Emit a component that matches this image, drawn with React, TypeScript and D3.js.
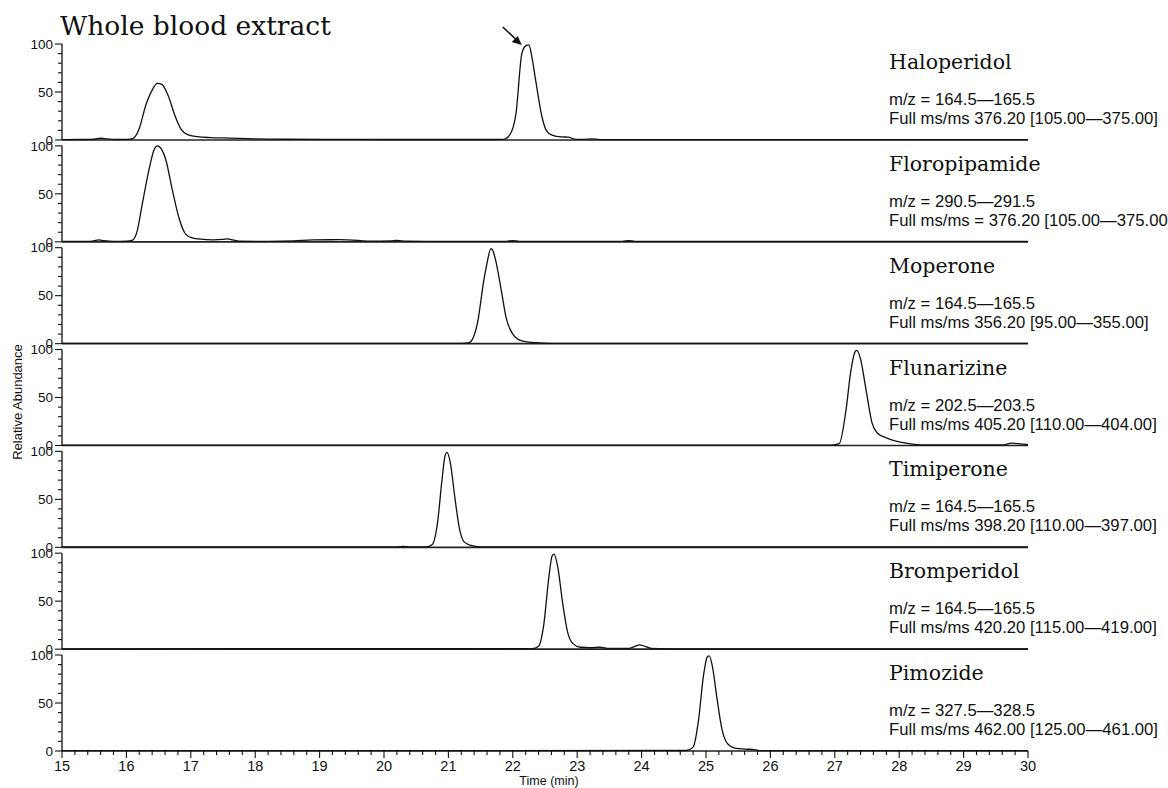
import * as d3 from 'd3'

const W = 1168
const H = 788

const TITLE = 'Whole blood extract'
const X_LABEL = 'Time (min)'
const Y_LABEL = 'Relative Abundance'

const COMPOUNDS = [
  'Haloperidol',
  'Floropipamide',
  'Moperone',
  'Flunarizine',
  'Timiperone',
  'Bromperidol',
  'Pimozide',
]

const MZ_WINDOWS = [
  'm/z = 164.5—165.5',
  'm/z = 290.5—291.5',
  'm/z = 164.5—165.5',
  'm/z = 202.5—203.5',
  'm/z = 164.5—165.5',
  'm/z = 164.5—165.5',
  'm/z = 327.5—328.5',
]

const SCAN_EVENTS = [
  'Full ms/ms 376.20 [105.00—375.00]',
  'Full ms/ms = 376.20 [105.00—375.00]',
  'Full ms/ms 356.20 [95.00—355.00]',
  'Full ms/ms 405.20 [110.00—404.00]',
  'Full ms/ms 398.20 [110.00—397.00]',
  'Full ms/ms 420.20 [115.00—419.00]',
  'Full ms/ms 462.00 [125.00—461.00]',
]

const X_TICKS = [15, 16, 17, 18, 19, 20, 21, 22, 23, 24, 25, 26, 27, 28, 29, 30]
const Y_TICKS = [0, 50, 100]

// [time (min), relative abundance (%)]
const HALOPERIDOL: [number, number][] = [
  [15.0, 0.4], [15.3, 0.5], [15.5, 0.8], [15.6, 1.8], [15.7, 1.2], [15.85, 0.5],
  [16.0, 0.6], [16.1, 1.5], [16.2, 12], [16.3, 36], [16.4, 52], [16.48, 59],
  [16.55, 58], [16.65, 46], [16.75, 26], [16.85, 11], [16.95, 5.5], [17.1, 3.5],
  [17.3, 2.5], [17.6, 2], [18.0, 1.2], [18.5, 0.8], [19.5, 0.6], [20.5, 0.5],
  [21.5, 0.5], [21.85, 0.6], [21.95, 5], [22.05, 28], [22.14, 90], [22.2, 98],
  [22.25, 99], [22.3, 85], [22.36, 60], [22.45, 25], [22.52, 10], [22.61, 5],
  [22.75, 3.2], [22.86, 3], [22.98, 0.6], [23.1, 0.6], [23.23, 1.2], [23.35, 0.4],
  [24.0, 0.4], [25.0, 0.4], [26.0, 0.3], [27.0, 0.4], [28.0, 0.3], [30.0, 0.3],
]

const FLOROPIPAMIDE: [number, number][] = [
  [15.0, 0.4], [15.4, 0.5], [15.5, 1.2], [15.57, 2], [15.65, 1.2], [15.8, 0.4],
  [16.0, 0.6], [16.09, 1.5], [16.17, 12], [16.24, 37], [16.35, 75], [16.43, 96],
  [16.48, 100], [16.54, 97], [16.61, 86], [16.71, 55], [16.82, 24], [16.92, 8],
  [17.02, 4], [17.12, 3], [17.35, 2], [17.5, 2.5], [17.57, 3], [17.65, 2],
  [17.75, 0.6], [18.2, 0.5], [18.6, 1], [18.9, 2], [19.3, 2.2], [19.6, 1.5],
  [19.8, 0.6], [20.1, 1], [20.2, 1.6], [20.35, 0.6], [21.0, 0.5], [21.9, 0.5],
  [22.0, 1.2], [22.1, 0.5], [23.7, 0.5], [23.8, 1.2], [23.9, 0.5], [30.0, 0.4],
]

const MOPERONE: [number, number][] = [
  [15.0, 0.4], [21.2, 0.4], [21.32, 1], [21.45, 21], [21.55, 66], [21.6, 84],
  [21.66, 99], [21.69, 97], [21.74, 85], [21.82, 56], [21.9, 26], [22.0, 10],
  [22.14, 3], [22.36, 1], [22.6, 0.4], [30.0, 0.4],
]

const FLUNARIZINE: [number, number][] = [
  [15.0, 0.4], [26.95, 0.4], [27.07, 2], [27.17, 35], [27.25, 78], [27.31, 97],
  [27.34, 99], [27.4, 90], [27.48, 60], [27.58, 23], [27.66, 13], [27.8, 8],
  [27.98, 4], [28.2, 1.5], [28.45, 0.6], [29.6, 0.6], [29.75, 2.5], [29.9, 1.5],
  [30.0, 0.8],
]

const TIMIPERONE: [number, number][] = [
  [15.0, 0.4], [20.2, 0.5], [20.3, 1], [20.4, 0.5], [20.65, 0.5], [20.75, 3],
  [20.83, 25], [20.9, 70], [20.95, 96], [20.98, 99], [21.03, 88], [21.1, 52],
  [21.17, 20], [21.24, 6], [21.35, 2], [21.5, 0.5], [30.0, 0.4],
]

const BROMPERIDOL: [number, number][] = [
  [15.0, 0.4], [22.3, 0.5], [22.4, 3], [22.48, 25], [22.56, 75], [22.61, 97],
  [22.64, 99], [22.7, 85], [22.77, 50], [22.85, 18], [22.93, 6], [23.05, 2],
  [23.2, 1.5], [23.35, 2], [23.5, 0.8], [23.8, 0.8], [23.9, 3], [23.97, 4.5],
  [24.05, 3], [24.15, 0.8], [24.4, 0.4], [30.0, 0.4],
]

const PIMOZIDE: [number, number][] = [
  [15.0, 0.4], [24.7, 0.5], [24.8, 4], [24.88, 30], [24.96, 78], [25.02, 98],
  [25.05, 99], [25.1, 88], [25.17, 55], [25.25, 22], [25.33, 8], [25.45, 3],
  [25.6, 2], [25.75, 1.5], [25.85, 0.4], [30.0, 0.4],
]

const TRACES = [HALOPERIDOL, FLOROPIPAMIDE, MOPERONE, FLUNARIZINE, TIMIPERONE, BROMPERIDOL, PIMOZIDE]

// the marked peak in the first trace
const ARROW_AT: [number, number] = [22.17, 100]

const SANS = '"Liberation Sans", Arial, Helvetica, sans-serif'
const SERIF = '"DejaVu Serif", "Century Schoolbook", serif'
const INK = '#111'

export default function App() {
  const x = d3.scaleLinear().domain([15, 30]).range([62, 1028])
  const panelTop = d3.scaleLinear().domain([0, COMPOUNDS.length - 1]).range([44, 655])
  const panelH = 96
  const minorX = x.ticks(75)

  const line = (y: d3.ScaleLinear<number, number>) =>
    d3
      .line<[number, number]>()
      .x((d) => x(d[0]))
      .y((d) => y(d[1]))
      .curve(d3.curveMonotoneX)

  const bottomY = panelTop(COMPOUNDS.length - 1) + panelH

  return (
    <svg
      width={W}
      height={H}
      viewBox={`0 0 ${W} ${H}`}
      style={{ position: 'absolute', left: 0, top: 0, background: '#fff' }}
    >
      <text x={60} y={35} fontFamily={SERIF} fontSize={26.5} fill={INK}>
        {TITLE}
      </text>

      {COMPOUNDS.map((name, i) => {
        const top = panelTop(i)
        const y = d3.scaleLinear().domain([0, 100]).range([top + panelH, top])
        const minorY = y.ticks(10)
        return (
          <g key={name}>
            {/* y axis */}
            <line x1={x(15)} x2={x(15)} y1={y(100)} y2={y(0)} stroke={INK} strokeWidth={1.3} />
            {minorY.map((t) => (
              <line
                key={t}
                x1={x(15) - (t % 50 === 0 ? 7 : 4)}
                x2={x(15)}
                y1={y(t)}
                y2={y(t)}
                stroke={INK}
                strokeWidth={1.1}
              />
            ))}
            {Y_TICKS.map((t) => (
              <text
                key={t}
                x={x(15) - 9}
                y={y(t)}
                dy="0.35em"
                textAnchor="end"
                fontFamily={SANS}
                fontSize={13.5}
                fill={INK}
              >
                {t}
              </text>
            ))}
            {/* baseline */}
            <line x1={x(15)} x2={x(30)} y1={y(0)} y2={y(0)} stroke="#222" strokeWidth={1.6} />
            <path d={line(y)(TRACES[i]) ?? ''} fill="none" stroke={INK} strokeWidth={1.3} />

            <text x={889} y={top + 25} fontFamily={SERIF} fontSize={20.5} fill={INK}>
              {name}
            </text>
            <text x={889} y={top + 61} fontFamily={SANS} fontSize={16.7} fill={INK}>
              {MZ_WINDOWS[i]}
            </text>
            <text x={889} y={top + 80} fontFamily={SANS} fontSize={16.7} fill={INK}>
              {SCAN_EVENTS[i]}
            </text>

            {i === 0 ? (
              <g>
                <line
                  x1={x(ARROW_AT[0]) - 21}
                  y1={y(ARROW_AT[1]) - 17}
                  x2={x(ARROW_AT[0]) - 6}
                  y2={y(ARROW_AT[1]) - 3}
                  stroke={INK}
                  strokeWidth={1.6}
                />
                <path
                  d={`M${x(ARROW_AT[0]) - 2},${y(ARROW_AT[1]) + 1} l-10,-3 l6,-6 z`}
                  fill={INK}
                />
              </g>
            ) : null}
          </g>
        )
      })}

      {/* time axis */}
      {minorX.map((t) => {
        const major = Math.abs(t - Math.round(t)) < 1e-6
        return (
          <line
            key={t}
            x1={x(t)}
            x2={x(t)}
            y1={bottomY}
            y2={bottomY + (major ? 7 : 4)}
            stroke={INK}
            strokeWidth={1.1}
          />
        )
      })}
      {X_TICKS.map((t) => (
        <text
          key={t}
          x={x(t)}
          y={bottomY + 20}
          textAnchor="middle"
          fontFamily={SANS}
          fontSize={14.5}
          fill={INK}
        >
          {t}
        </text>
      ))}
      <text
        x={(x(15) + x(30)) / 2 + 4}
        y={785}
        textAnchor="middle"
        fontFamily={SANS}
        fontSize={12.5}
        fill={INK}
      >
        {X_LABEL}
      </text>
      <text
        transform={`translate(22,${402}) rotate(-90)`}
        textAnchor="middle"
        fontFamily={SANS}
        fontSize={13}
        fill={INK}
      >
        {Y_LABEL}
      </text>
    </svg>
  )
}
